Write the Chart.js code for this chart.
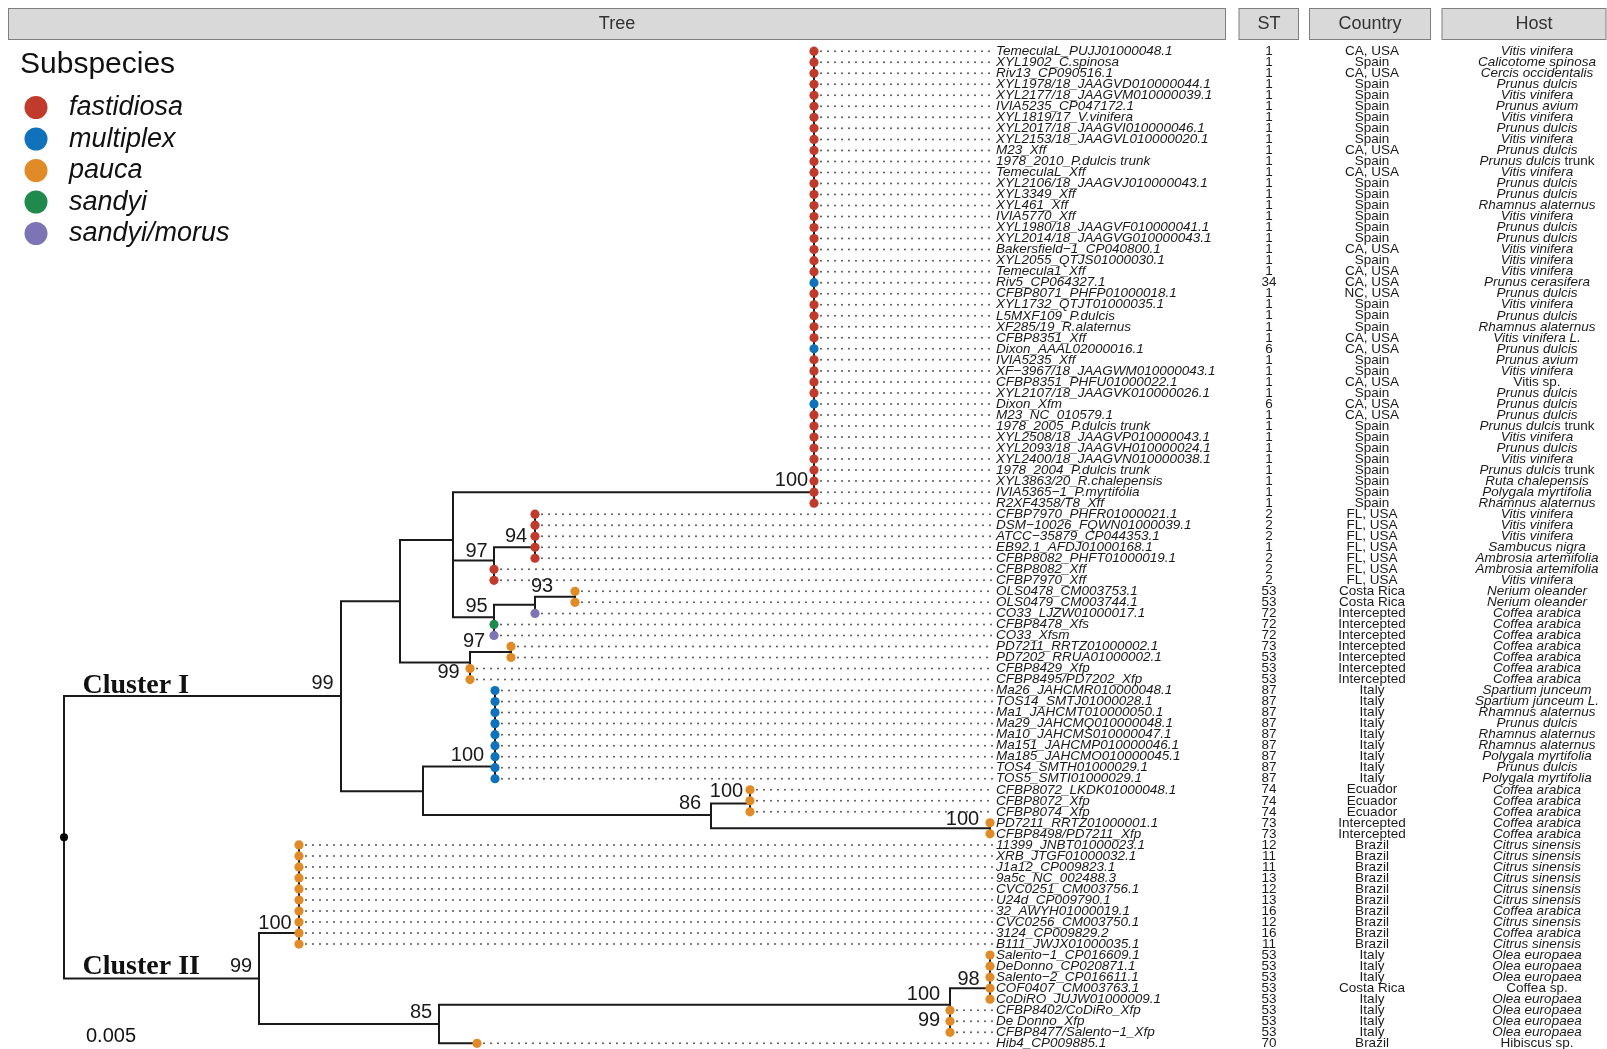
<!DOCTYPE html>
<html>
<head>
<meta charset="utf-8">
<title>Xylella fastidiosa phylogeny</title>
<script src="https://cdn.jsdelivr.net/npm/chart.js@4.4.1/dist/chart.umd.min.js"></script>
<style>
  html, body { margin: 0; padding: 0; background: #fff; }
  #wrap { width: 1607px; height: 1049px; }
</style>
</head>
<body>
<div id="wrap"><canvas id="treeChart" width="1607" height="1049"></canvas></div>
<script>
// ---------- TIP DATA (top to bottom) ----------
const strains = [
  "TemeculaL_PUJJ01000048.1", "XYL1902_C.spinosa", "Riv13_CP090516.1", "XYL1978/18_JAAGVD010000044.1",
  "XYL2177/18_JAAGVM010000039.1", "IVIA5235_CP047172.1", "XYL1819/17_V.vinifera", "XYL2017/18_JAAGVI010000046.1",
  "XYL2153/18_JAAGVL010000020.1", "M23_Xff", "1978_2010_P.dulcis trunk", "TemeculaL_Xff",
  "XYL2106/18_JAAGVJ010000043.1", "XYL3349_Xff", "XYL461_Xff", "IVIA5770_Xff",
  "XYL1980/18_JAAGVF010000041.1", "XYL2014/18_JAAGVG010000043.1", "Bakersfield−1_CP040800.1", "XYL2055_QTJS01000030.1",
  "Temecula1_Xff", "Riv5_CP064327.1", "CFBP8071_PHFP01000018.1", "XYL1732_QTJT01000035.1",
  "L5MXF109_P.dulcis", "XF285/19_R.alaternus", "CFBP8351_Xff", "Dixon_AAAL02000016.1",
  "IVIA5235_Xff", "XF−3967/18_JAAGWM010000043.1", "CFBP8351_PHFU01000022.1", "XYL2107/18_JAAGVK010000026.1",
  "Dixon_Xfm", "M23_NC_010579.1", "1978_2005_P.dulcis trunk", "XYL2508/18_JAAGVP010000043.1",
  "XYL2093/18_JAAGVH010000024.1", "XYL2400/18_JAAGVN010000038.1", "1978_2004_P.dulcis trunk", "XYL3863/20_R.chalepensis",
  "IVIA5365−1_P.myrtifolia", "R2XF4358/T8_Xff", "CFBP7970_PHFR01000021.1", "DSM−10026_FQWN01000039.1",
  "ATCC−35879_CP044353.1", "EB92.1_AFDJ01000168.1", "CFBP8082_PHFT01000019.1", "CFBP8082_Xff",
  "CFBP7970_Xff", "OLS0478_CM003753.1", "OLS0479_CM003744.1", "CO33_LJZW01000017.1",
  "CFBP8478_Xfs", "CO33_Xfsm", "PD7211_RRTZ01000002.1", "PD7202_RRUA01000002.1",
  "CFBP8429_Xfp", "CFBP8495/PD7202_Xfp", "Ma26_JAHCMR010000048.1", "TOS14_SMTJ01000028.1",
  "Ma1_JAHCMT010000050.1", "Ma29_JAHCMQ010000048.1", "Ma10_JAHCMS010000047.1", "Ma151_JAHCMP010000046.1",
  "Ma185_JAHCMO010000045.1", "TOS4_SMTH01000029.1", "TOS5_SMTI01000029.1", "CFBP8072_LKDK01000048.1",
  "CFBP8072_Xfp", "CFBP8074_Xfp", "PD7211_RRTZ01000001.1", "CFBP8498/PD7211_Xfp",
  "11399_JNBT01000023.1", "XRB_JTGF01000032.1", "J1a12_CP009823.1", "9a5c_NC_002488.3",
  "CVC0251_CM003756.1", "U24d_CP009790.1", "32_AWYH01000019.1", "CVC0256_CM003750.1",
  "3124_CP009829.2", "B111_JWJX01000035.1", "Salento−1_CP016609.1", "DeDonno_CP020871.1",
  "Salento−2_CP016611.1", "COF0407_CM003763.1", "CoDiRO_JUJW01000009.1", "CFBP8402/CoDiRo_Xfp",
  "De Donno_Xfp", "CFBP8477/Salento−1_Xfp", "Hib4_CP009885.1"
];

const stTypes = [
  1, 1, 1, 1, 1, 1, 1, 1, 1, 1, 1, 1, 1, 1, 1, 1, 1, 1, 1, 1, 1, 34, 1, 1, 1, 1, 1, 6, 1, 1,
  1, 1, 6, 1, 1, 1, 1, 1, 1, 1, 1, 1, 2, 2, 2, 1, 2, 2, 2, 53, 53, 72, 72, 72, 73, 53, 53, 53, 87, 87,
  87, 87, 87, 87, 87, 87, 87, 74, 74, 74, 73, 73, 12, 11, 11, 13, 12, 13, 16, 12, 16, 11, 53, 53, 53, 53, 53, 53, 53, 53,
  70
];

const countries = [
  "CA, USA", "Spain", "CA, USA", "Spain", "Spain", "Spain", "Spain", "Spain", "Spain", "CA, USA",
  "Spain", "CA, USA", "Spain", "Spain", "Spain", "Spain", "Spain", "Spain", "CA, USA", "Spain",
  "CA, USA", "CA, USA", "NC, USA", "Spain", "Spain", "Spain", "CA, USA", "CA, USA", "Spain", "Spain",
  "CA, USA", "Spain", "CA, USA", "CA, USA", "Spain", "Spain", "Spain", "Spain", "Spain", "Spain",
  "Spain", "Spain", "FL, USA", "FL, USA", "FL, USA", "FL, USA", "FL, USA", "FL, USA", "FL, USA", "Costa Rica",
  "Costa Rica", "Intercepted", "Intercepted", "Intercepted", "Intercepted", "Intercepted", "Intercepted", "Intercepted", "Italy", "Italy",
  "Italy", "Italy", "Italy", "Italy", "Italy", "Italy", "Italy", "Ecuador", "Ecuador", "Ecuador",
  "Intercepted", "Intercepted", "Brazil", "Brazil", "Brazil", "Brazil", "Brazil", "Brazil", "Brazil", "Brazil",
  "Brazil", "Brazil", "Italy", "Italy", "Italy", "Costa Rica", "Italy", "Italy", "Italy", "Italy",
  "Brazil"
];

const hosts = [
  "Vitis vinifera", "Calicotome spinosa", "Cercis occidentalis", "Prunus dulcis", "Vitis vinifera",
  "Prunus avium", "Vitis vinifera", "Prunus dulcis", "Vitis vinifera", "Prunus dulcis",
  "Prunus dulcis trunk", "Vitis vinifera", "Prunus dulcis", "Prunus dulcis", "Rhamnus alaternus",
  "Vitis vinifera", "Prunus dulcis", "Prunus dulcis", "Vitis vinifera", "Vitis vinifera",
  "Vitis vinifera", "Prunus cerasifera", "Prunus dulcis", "Vitis vinifera", "Prunus dulcis",
  "Rhamnus alaternus", "Vitis vinifera L.", "Prunus dulcis", "Prunus avium", "Vitis vinifera",
  "Vitis sp.", "Prunus dulcis", "Prunus dulcis", "Prunus dulcis", "Prunus dulcis trunk",
  "Vitis vinifera", "Prunus dulcis", "Vitis vinifera", "Prunus dulcis trunk", "Ruta chalepensis",
  "Polygala myrtifolia", "Rhamnus alaternus", "Vitis vinifera", "Vitis vinifera", "Vitis vinifera",
  "Sambucus nigra", "Ambrosia artemifolia", "Ambrosia artemifolia", "Vitis vinifera", "Nerium oleander",
  "Nerium oleander", "Coffea arabica", "Coffea arabica", "Coffea arabica", "Coffea arabica",
  "Coffea arabica", "Coffea arabica", "Coffea arabica", "Spartium junceum", "Spartium junceum L.",
  "Rhamnus alaternus", "Prunus dulcis", "Rhamnus alaternus", "Rhamnus alaternus", "Polygala myrtifolia",
  "Prunus dulcis", "Polygala myrtifolia", "Coffea arabica", "Coffea arabica", "Coffea arabica",
  "Coffea arabica", "Coffea arabica", "Citrus sinensis", "Citrus sinensis", "Citrus sinensis",
  "Citrus sinensis", "Citrus sinensis", "Citrus sinensis", "Coffea arabica", "Citrus sinensis",
  "Coffea arabica", "Citrus sinensis", "Olea europaea", "Olea europaea", "Olea europaea",
  "Coffea sp.", "Olea europaea", "Olea europaea", "Olea europaea", "Olea europaea",
  "Hibiscus sp."
];

// f = fastidiosa, m = multiplex, p = pauca, s = sandyi, sm = sandyi/morus
const tipSubsp = [
  "f", "f", "f", "f", "f", "f", "f", "f", "f", "f", "f", "f", "f", "f", "f", "f", "f", "f", "f", "f",
  "f", "m", "f", "f", "f", "f", "f", "m", "f", "f", "f", "f", "m", "f", "f", "f", "f", "f", "f", "f",
  "f", "f", "f", "f", "f", "f", "f", "f", "f", "p", "p", "sm", "s", "sm", "p", "p", "p", "p", "m", "m",
  "m", "m", "m", "m", "m", "m", "m", "p", "p", "p", "p", "p", "p", "p", "p", "p", "p", "p", "p", "p",
  "p", "p", "p", "p", "p", "p", "p", "p", "p", "p", "p"
];

// ---------- TREE TOPOLOGY ----------
// internal nodes: parent, depth from root (subst./site), vertical position (tip-row units)
const nodeParent = [-1, 0, 0, 1, 1, 3, 5, 5, 6, 8, 6, 10, 11, 3, 13, 4, 4, 16, 16, 2, 2, 20, 21];
const nodeDepth = [0, 0.0277, 0.0195, 0.0336, 0.0359, 0.0389, 0.0389, 0.0750, 0.0430, 0.0471, 0.0430, 0.0471,
  0.0511, 0.0406, 0.0447, 0.0431, 0.0647, 0.0686, 0.0926, 0.0235, 0.0375, 0.0886, 0.0926];
const nodeRow = [72.3, 59.5, 85.13, 50.89, 68.14, 45.35, 49.74, 41, 47.2, 46, 52.34, 51.22,
  50.5, 56.45, 55.5, 65.9, 70.3, 69.25, 71.5, 81, 89.25, 87.5, 86];

// parent node of every tip
const tipParent = [
  7, 7, 7, 7, 7, 7, 7, 7, 7, 7, 7, 7, 7, 7, 7, 7, 7, 7, 7, 7, 7, 7, 7, 7, 7, 7, 7, 7, 7, 7,
  7, 7, 7, 7, 7, 7, 7, 7, 7, 7, 7, 7, 9, 9, 9, 9, 9, 8, 8, 12, 12, 11, 10, 10, 14, 14, 13, 13,
  15, 15, 15, 15, 15, 15, 15, 15, 15, 17, 17, 17, 18, 18, 19, 19, 19, 19, 19, 19, 19, 19, 19, 19,
  22, 22, 22, 22, 22, 21, 21, 21, 20
];
// tips with a non-zero terminal branch
const tipBranch = { "Hib4_CP009885.1": 0.0038 };

// bootstrap supports and where their text sits
const bootValues = [100, 94, 97, 93, 95, 97, 99, 99, 100, 100, 86, 100, 100, 99, 85, 100, 98, 99];
const bootDepth = [0.07275, 0.0452, 0.04125, 0.0478, 0.04125, 0.0410, 0.03845, 0.02585, 0.04035, 0.06625,
  0.0626, 0.08985, 0.0211, 0.0177, 0.0357, 0.08595, 0.09045, 0.0865];
const bootRow = [39.91, 45.06, 46.42, 49.53, 51.41, 54.58, 57.40, 58.33, 64.87, 68.20,
  69.25, 70.70, 80.14, 84.01, 88.16, 86.58, 85.19, 88.91];

const subspNames = ["fastidiosa", "multiplex", "pauca", "sandyi", "sandyi/morus"];
const subspCodes = ["f", "m", "p", "s", "sm"];
const subspColors = ["#C13B2C", "#1072BA", "#E18A28", "#1F8A4C", "#7D74B5"];

const TIP_LABEL_DEPTH = 0.0932;
const GUIDE_END = 0.0929;

// ---------- BUILD SEGMENTS ----------
const tipRow = strains.map((_, i) => i + 1);
const tipDepth = strains.map((s, i) => nodeDepth[tipParent[i]] + (tipBranch[s] || 0));

const branchPts = [];
const guidePts = [];
function addSeg(arr, x1, y1, x2, y2) {
  arr.push({ x: x1, y: y1 }, { x: x2, y: y2 }, { x: x2, y: null });
}

nodeParent.forEach((p, n) => {
  if (p < 0) return;
  if (nodeDepth[n] > nodeDepth[p]) addSeg(branchPts, nodeDepth[p], nodeRow[n], nodeDepth[n], nodeRow[n]);
});
tipParent.forEach((p, i) => {
  if (tipDepth[i] > nodeDepth[p]) addSeg(branchPts, nodeDepth[p], tipRow[i], tipDepth[i], tipRow[i]);
  if (tipDepth[i] < GUIDE_END - 0.001) addSeg(guidePts, tipDepth[i], tipRow[i], GUIDE_END, tipRow[i]);
});
nodeParent.forEach((_, n) => {
  const rows = [];
  nodeParent.forEach((p, c) => { if (p === n) rows.push(nodeRow[c]); });
  tipParent.forEach((p, i) => { if (p === n) rows.push(tipRow[i]); });
  addSeg(branchPts, nodeDepth[n], Math.min(...rows), nodeDepth[n], Math.max(...rows));
});

const dotSets = subspCodes.map((code, k) => ({
  label: subspNames[k],
  data: tipRow.filter((_, i) => tipSubsp[i] === code).map((r) => ({ x: tipDepth[r - 1], y: r })),
  showLine: false,
  pointRadius: 4.6,
  pointBackgroundColor: subspColors[k],
  pointBorderWidth: 0,
  order: 0,
  clip: false,
}));

// ---------- TEXT PLUGIN ----------
const SANS = '"Liberation Sans", Arial, Helvetica, sans-serif';

function drawHost(ctx, text, cx, y) {
  let parts = [[text, true]];
  if (/ sp\.$/.test(text)) parts = [[text, false]];
  else if (/ trunk$/.test(text)) parts = [[text.replace(/ trunk$/, ""), true], [" trunk", false]];
  const fonts = parts.map((p) => (p[1] ? "italic " : "") + "13.5px " + SANS);
  let total = 0;
  parts.forEach((p, i) => { ctx.font = fonts[i]; total += ctx.measureText(p[0]).width; });
  let x = cx - total / 2;
  ctx.textAlign = "left";
  parts.forEach((p, i) => {
    ctx.font = fonts[i];
    ctx.fillText(p[0], x, y);
    x += ctx.measureText(p[0]).width;
  });
}

const textPlugin = {
  id: "treeText",
  afterDatasetsDraw(chart) {
    const { ctx, scales } = chart;
    const xs = scales.x, ys = scales.y;
    ctx.save();

    // strip headers: title, box left, box right, title centre
    const headers = [["Tree", 8.5, 1225.5, 617], ["ST", 1239, 1298.5, 1269], ["Country", 1309.5, 1430.5, 1370], ["Host", 1442, 1606, 1534]];
    headers.forEach(([t, x1, x2, cx]) => {
      ctx.fillStyle = "#d9d9d9";
      ctx.fillRect(x1, 8.5, x2 - x1, 31);
      ctx.strokeStyle = "#7f7f7f";
      ctx.lineWidth = 1;
      ctx.strokeRect(x1, 8.5, x2 - x1, 31);
      ctx.fillStyle = "#333";
      ctx.font = "18px " + SANS;
      ctx.textAlign = "center";
      ctx.textBaseline = "middle";
      ctx.fillText(t, cx, 24.5);
    });

    // legend
    ctx.fillStyle = "#111";
    ctx.textAlign = "left";
    ctx.font = "30px " + SANS;
    ctx.fillText("Subspecies", 20, 65);
    subspNames.forEach((name, k) => {
      const y = 107.5 + k * 31.5;
      ctx.beginPath();
      ctx.arc(36, y, 11.5, 0, Math.PI * 2);
      ctx.fillStyle = subspColors[k];
      ctx.fill();
      ctx.fillStyle = "#111";
      ctx.font = "italic 27px " + SANS;
      ctx.fillText(name, 69, y);
    });

    // cluster names and scale
    ctx.font = 'bold 28px "Liberation Serif", "Times New Roman", serif';
    ctx.textBaseline = "alphabetic";
    ctx.fillText("Cluster I", 82.5, ys.getPixelForValue(nodeRow[1]) - 3);
    ctx.fillText("Cluster II", 82.5, ys.getPixelForValue(nodeRow[2]) - 5);
    ctx.font = "20px " + SANS;
    ctx.textBaseline = "middle";
    ctx.fillText("0.005", 86, 1036);

    // bootstrap values
    ctx.textAlign = "center";
    ctx.fillStyle = "#1a1a1a";
    ctx.font = "20px " + SANS;
    bootValues.forEach((v, i) => {
      ctx.fillText(String(v), xs.getPixelForValue(bootDepth[i]), ys.getPixelForValue(bootRow[i]));
    });

    // tip labels and table columns
    const lx = xs.getPixelForValue(TIP_LABEL_DEPTH);
    strains.forEach((s, i) => {
      const y = ys.getPixelForValue(tipRow[i]);
      ctx.fillStyle = "#1a1a1a";
      ctx.textAlign = "left";
      ctx.font = "italic 13.5px " + SANS;
      ctx.fillText(s, lx, y);
      ctx.textAlign = "center";
      ctx.font = "13.5px " + SANS;
      ctx.fillText(String(stTypes[i]), 1269, y);
      ctx.fillText(countries[i], 1372, y);
      drawHost(ctx, hosts[i], 1537, y);
    });

    ctx.restore();
  },
};

// ---------- CHART ----------
const ctx = document.getElementById("treeChart").getContext("2d");
new Chart(ctx, {
  type: "line",
  data: {
    datasets: [
      ...dotSets,
      {
        label: "root",
        data: [{ x: nodeDepth[0], y: nodeRow[0] }],
        showLine: false,
        pointRadius: 4,
        pointBackgroundColor: "#000",
        pointBorderWidth: 0,
        order: 0,
        clip: false,
      },
      {
        label: "branches",
        data: branchPts,
        borderColor: "#1a1a1a",
        borderWidth: 2,
        borderCapStyle: "square",
        pointRadius: 0,
        spanGaps: false,
        tension: 0,
        order: 1,
        clip: false,
      },
      {
        label: "guides",
        data: guidePts,
        borderColor: "#555",
        borderWidth: 2,
        borderDash: [0, 7],
        borderCapStyle: "round",
        pointRadius: 0,
        spanGaps: false,
        order: 2,
        clip: false,
      },
    ],
  },
  options: {
    responsive: false,
    devicePixelRatio: 1,
    animation: false,
    events: [],
    layout: { padding: { left: 64, right: 613, top: 51.2, bottom: 5.7 } },
    plugins: { legend: { display: false }, tooltip: { enabled: false } },
    scales: {
      x: { type: "linear", min: 0, max: 0.093, display: false },
      y: { type: "linear", min: 1, max: 91, reverse: true, display: false },
    },
  },
  plugins: [textPlugin],
});
</script>
</body>
</html>
